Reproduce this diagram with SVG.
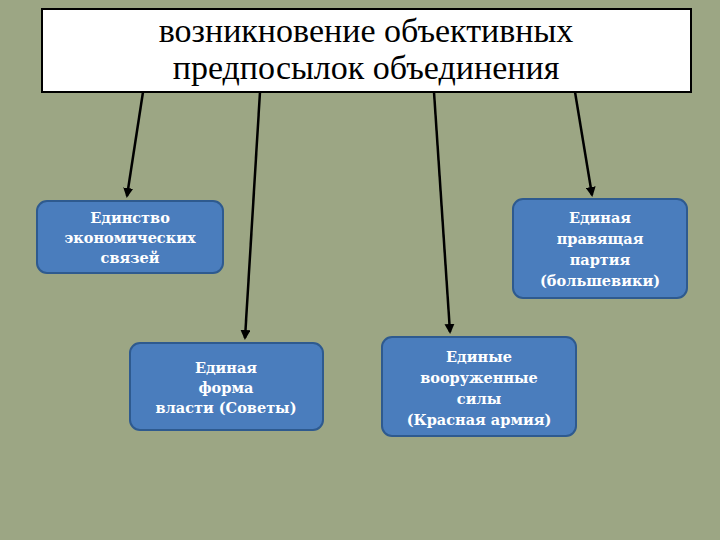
<svg xmlns="http://www.w3.org/2000/svg" width="720" height="540" viewBox="0 0 720 540">
<style>
.b{fill:#4a7dbd;stroke:#2e5a8f;stroke-width:2}
.t{font-family:"DejaVu Serif",serif;font-weight:bold;font-size:14.5px;fill:#fff;text-anchor:middle}
.c{stroke:#000;stroke-width:2.5;fill:none;marker-end:url(#a)}
</style>
<defs><marker id="a" viewBox="0 0 10 10" refX="8" refY="5" markerWidth="4" markerHeight="4" orient="auto"><path d="M0,0L10,5L0,10z" fill="#000"/></marker></defs>
<rect width="720" height="540" fill="#9ca684"/>
<g id="top"><rect x="42" y="9" width="649" height="83" fill="#fff" stroke="#000" stroke-width="2"/>
<text x="366" y="42" font-family="Liberation Serif,serif" font-size="34" text-anchor="middle" fill="#000">возникновение объективных</text>
<text x="366" y="79" font-family="Liberation Serif,serif" font-size="34" text-anchor="middle" fill="#000">предпосылок объединения</text></g>
<g id="connectors">
<line class="c" x1="143" y1="92" x2="127" y2="196"/>
<line class="c" x1="260" y1="92" x2="245" y2="338"/>
<line class="c" x1="434" y1="92" x2="450" y2="332"/>
<line class="c" x1="575" y1="92" x2="592" y2="195"/>
</g>
<g id="n1"><rect class="b" x="37" y="201" width="186" height="72" rx="10"/>
<text class="t" x="130" y="223">Единство</text><text class="t" x="130" y="243">экономических</text><text class="t" x="130" y="263">связей</text></g>
<g id="n2"><rect class="b" x="130" y="343" width="193" height="87" rx="10"/>
<text class="t" x="226" y="373">Единая</text><text class="t" x="226" y="393">форма</text><text class="t" x="226" y="413">власти (Советы)</text></g>
<g id="n3"><rect class="b" x="382" y="337" width="194" height="99" rx="10"/>
<text class="t" x="479" y="362">Единые</text><text class="t" x="479" y="383">вооруженные</text><text class="t" x="479" y="404">силы</text><text class="t" x="479" y="425">(Красная армия)</text></g>
<g id="n4"><rect class="b" x="513" y="199" width="174" height="99" rx="10"/>
<text class="t" x="600" y="223">Единая</text><text class="t" x="600" y="244">правящая</text><text class="t" x="600" y="265">партия</text><text class="t" x="600" y="286">(большевики)</text></g>
</svg>
